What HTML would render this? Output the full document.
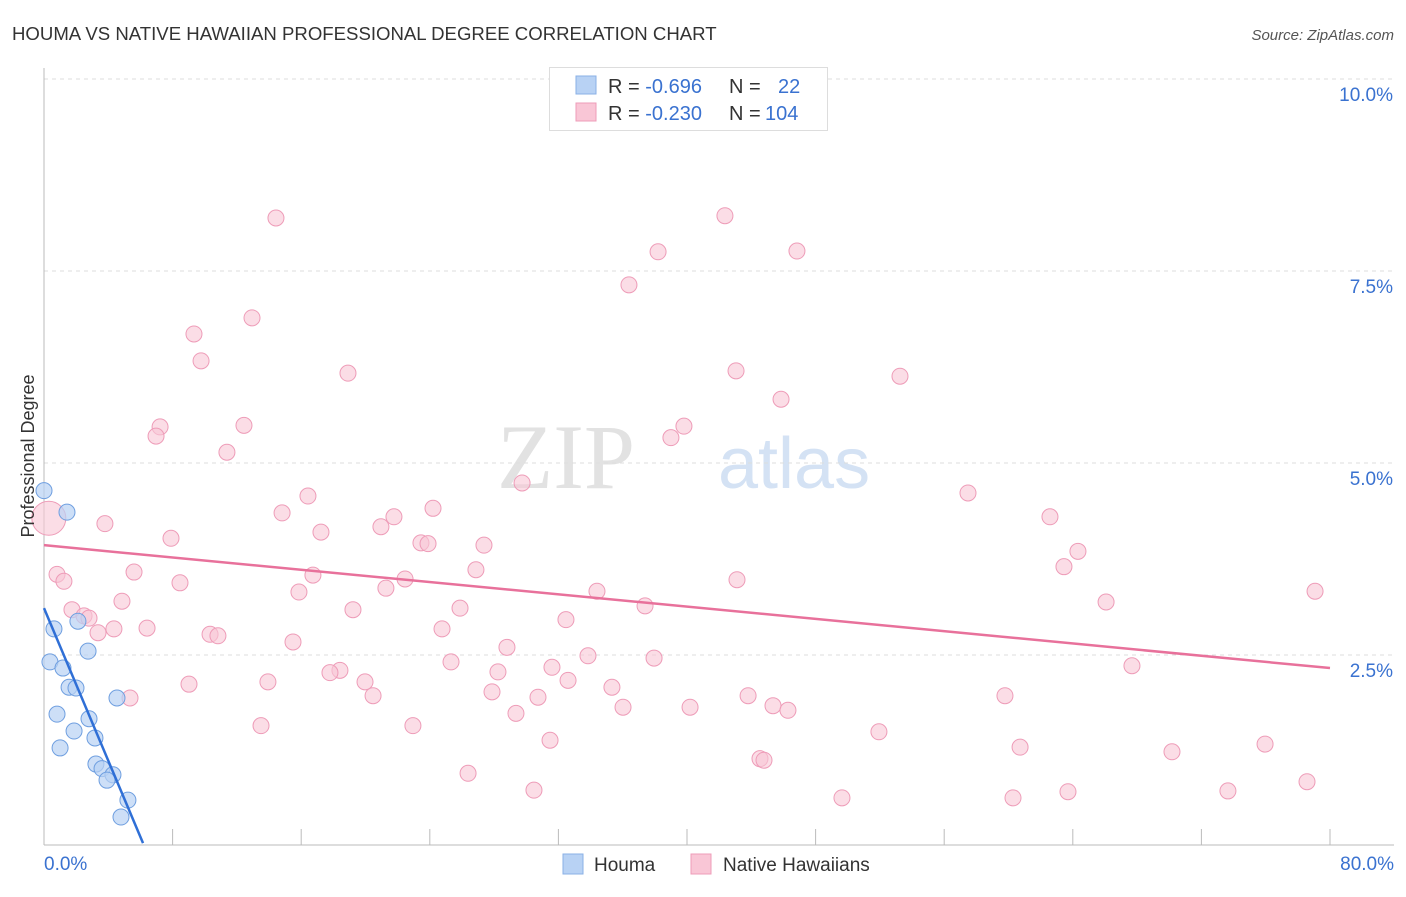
<!DOCTYPE html>
<html><head><meta charset="utf-8"><style>
body{margin:0;background:#fff;font-family:"Liberation Sans",sans-serif;}
svg text{font-family:"Liberation Sans",sans-serif;}
</style></head><body>
<svg id="c" width="1406" height="892">
<text x="12" y="40" font-size="18.6" fill="#333">HOUMA VS NATIVE HAWAIIAN PROFESSIONAL DEGREE CORRELATION CHART</text>
<text x="1394" y="40" font-size="15" fill="#555" text-anchor="end" font-style="italic">Source: ZipAtlas.com</text>
<g>
<text x="635" y="488" font-size="92" fill="#e2e2e2" text-anchor="end" font-family="Liberation Serif" style="font-family:'Liberation Serif',serif">ZIP</text>
<text x="718" y="488" font-size="72" fill="#d4e2f4">atlas</text>
</g>
<g id="grid"></g><g id="axes"></g><g id="marks"></g>
<text transform="translate(34,456) rotate(-90)" font-size="18" fill="#333" text-anchor="middle">Professional Degree</text>
<g>
<rect x="549.5" y="67.5" width="278" height="63" fill="#fff" stroke="#ddd"/>
<rect x="576" y="76" width="20" height="18" fill="#b8d2f4" stroke="#8ab0e6"/>
<rect x="576" y="103" width="20" height="18" fill="#f9c6d6" stroke="#ee9cb8"/>
<text x="608" y="93" font-size="20" fill="#333">R = <tspan fill="#3a72d0">-0.696</tspan><tspan x="729">N =</tspan><tspan x="778" fill="#3a72d0">22</tspan></text>
<text x="608" y="120" font-size="20" fill="#333">R = <tspan fill="#3a72d0">-0.230</tspan><tspan x="729">N =</tspan><tspan x="765" fill="#3a72d0">104</tspan></text>
</g>
<g>
<rect x="563" y="854" width="20" height="20" fill="#b8d2f4" stroke="#8ab0e6"/>
<text x="594" y="871" font-size="19" fill="#333">Houma</text>
<rect x="691" y="854" width="20" height="20" fill="#f9c6d6" stroke="#ee9cb8"/>
<text x="723" y="871" font-size="19" fill="#333">Native Hawaiians</text>
</g>
</svg>
<script>
const yTicks=[2.5,5.0,7.5,10.0];
const xTickLabels=["0.0%","80.0%"];
const houmaX=[0,1.43,0.62,2.11,2.74,0.37,1.18,1.56,1.99,4.54,0.81,2.80,1.87,3.17,1.0,3.23,3.61,4.29,3.92,5.22,4.79];
const houmaY=[4.64,4.36,2.84,2.94,2.55,2.41,2.33,2.08,2.07,1.94,1.73,1.67,1.51,1.42,1.29,1.08,1.02,0.94,0.87,0.61,0.39];
const hawX=[14.43,42.36,38.20,46.84,36.39,12.94,9.33,9.77,18.91,43.05,53.25,45.85,7.22,6.97,12.44,39.81,39.00,11.38,29.74,16.42,57.48,24.20,14.81,62.58,3.79,21.77,20.96,17.23,7.90,23.45,23.89,27.37,64.32,63.45,0.81,1.24,5.60,16.73,26.87,43.11,22.46,8.46,21.27,15.86,34.40,79.07,4.85,66.07,1.74,25.88,19.22,37.39,2.49,2.80,32.47,6.41,4.35,24.76,3.36,10.33,10.82,15.49,28.80,33.84,37.95,25.32,18.41,17.79,31.60,28.24,67.68,32.60,19.97,9.02,13.93,35.33,27.87,20.47,5.35,43.80,59.78,30.73,36.02,40.19,45.35,46.28,29.36,13.50,22.95,51.94,31.48,60.72,75.96,70.17,44.54,44.79,26.38,78.57,30.48,73.65,63.70,49.64,60.28];
const hawY=[8.19,8.22,7.75,7.76,7.32,6.89,6.68,6.33,6.17,6.20,6.13,5.83,5.47,5.35,5.49,5.48,5.33,5.14,4.74,4.57,4.61,4.41,4.35,4.30,4.21,4.30,4.17,4.10,4.02,3.96,3.95,3.93,3.85,3.65,3.55,3.46,3.58,3.54,3.61,3.48,3.49,3.44,3.37,3.32,3.33,3.33,3.20,3.19,3.09,3.11,3.09,3.14,3.01,2.98,2.96,2.85,2.84,2.84,2.79,2.77,2.75,2.67,2.60,2.49,2.46,2.41,2.30,2.27,2.34,2.28,2.36,2.17,2.15,2.12,2.15,2.08,2.02,1.97,1.94,1.97,1.97,1.95,1.82,1.82,1.84,1.78,1.74,1.58,1.58,1.50,1.39,1.30,1.34,1.24,1.15,1.13,0.96,0.85,0.74,0.73,0.72,0.64,0.64];
const houmaTrend=[3.11,0.05,6.16];
const hawTrend=[3.93,2.33];
const NS="http://www.w3.org/2000/svg";
const X=v=>44+v/80*1286, Y=v=>847-v*76.8;
function mk(p,t,a){const e=document.createElementNS(NS,t);for(const k in a)e.setAttribute(k,a[k]);p.appendChild(e);return e;}
const grid=document.getElementById('grid'),axes=document.getElementById('axes'),marks=document.getElementById('marks');
yTicks.forEach(t=>{const l=mk(grid,'line',{x1:44,x2:1394,y1:Y(t),y2:Y(t),stroke:'#ddd','stroke-dasharray':'4,4'});


const tx=mk(grid,'text',{x:1393,y:Y(t)+22,'font-size':19,fill:'#3a72d0','text-anchor':'end'});tx.textContent=t.toFixed(1)+'%';

});
mk(axes,'line',{x1:44,x2:44,y1:68,y2:845,stroke:'#bbb'});
mk(axes,'line',{x1:44,x2:1394,y1:845,y2:845,stroke:'#bbb'});
for(let i=0;i<=10;i++){mk(axes,'line',{x1:X(i*8),x2:X(i*8),y1:829,y2:845,stroke:'#bbb'});}
const xl=mk(axes,'text',{x:44,y:870,'font-size':19,fill:'#3a72d0'});xl.textContent=xTickLabels[0];


const xr=mk(axes,'text',{x:1394,y:870,'font-size':19,fill:'#3a72d0','text-anchor':'end'});xr.textContent=xTickLabels[1];


const big=mk(marks,'circle',{cx:X(0.3),cy:Y(4.28),r:17,fill:'#f9c6d6','fill-opacity':0.6,stroke:'#ee9cb8'});


hawX.forEach((v,i)=>{const c=mk(marks,'circle',{cx:X(v),cy:Y(hawY[i]),r:8,fill:'#f9c6d6','fill-opacity':0.6,stroke:'#ee9cb8','stroke-width':1});

});
const pl=mk(marks,'line',{x1:X(0),y1:Y(hawTrend[0]),x2:X(80),y2:Y(hawTrend[1]),stroke:'#e8719b','stroke-width':2.5});


houmaX.forEach((v,i)=>{const c=mk(marks,'circle',{cx:X(v),cy:Y(houmaY[i]),r:8,fill:'#b8d2f4','fill-opacity':0.7,stroke:'#6f9fe0','stroke-width':1});

});
const bl=mk(marks,'line',{x1:X(0),y1:Y(houmaTrend[0]),x2:X(houmaTrend[2]),y2:Y(houmaTrend[1]),stroke:'#2f6fd6','stroke-width':2.5});


</script>
</body></html>
